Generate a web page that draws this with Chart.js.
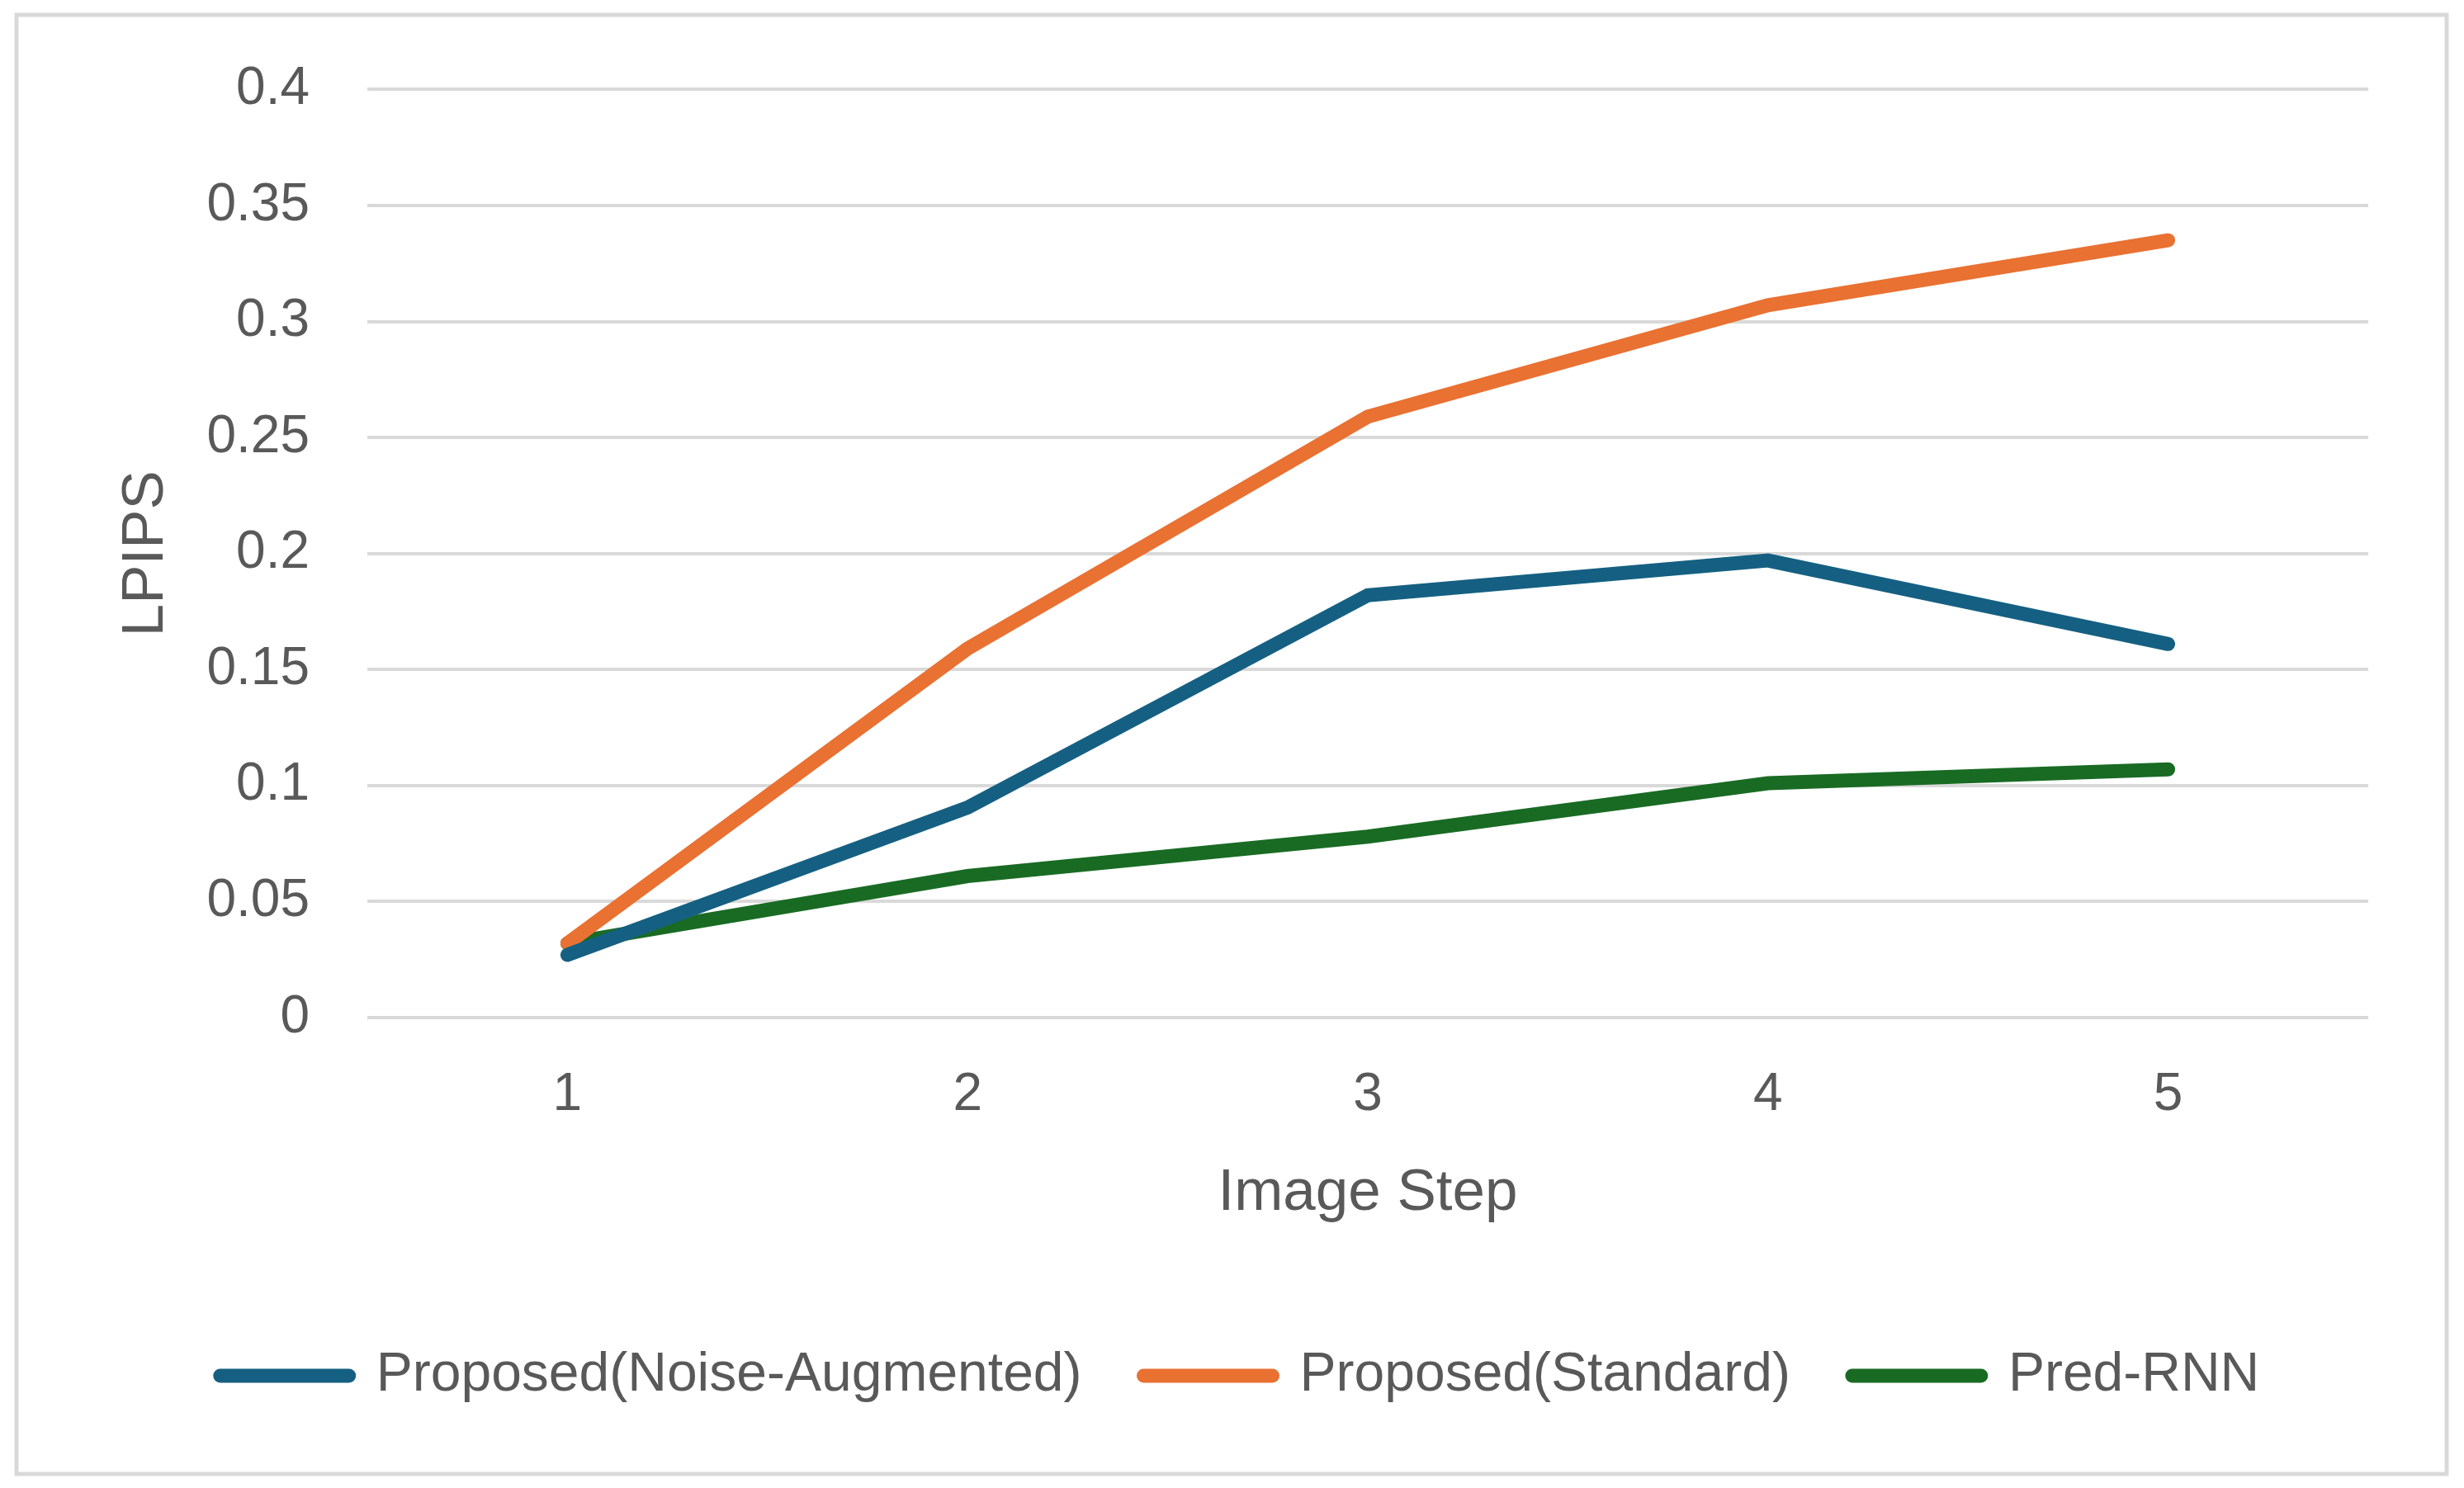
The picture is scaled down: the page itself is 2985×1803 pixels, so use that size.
<!DOCTYPE html>
<html>
<head>
<meta charset="utf-8">
<script src="https://cdn.jsdelivr.net/npm/chart.js@4"></script>
<style>
  html, body { margin: 0; padding: 0; background: #ffffff; }
  #wrap { position: absolute; left: 0; top: 0; width: 2985px; height: 1803px; }
</style>
</head>
<body>
<div id="wrap"><canvas id="lpips-chart"></canvas></div>
<script>
const steps = ["1", "2", "3", "4", "5"];
const noiseAugmented = [0.027, 0.0905, 0.182, 0.197, 0.161];
const standard = [0.032, 0.159, 0.259, 0.307, 0.335];
const predRnn = [0.032, 0.061, 0.078, 0.101, 0.107];
const yTicks = [0, 0.05, 0.1, 0.15, 0.2, 0.25, 0.3, 0.35, 0.4];

const textColor = "#595959";
const gridColor = "#d9d9d9";
const fontFamily = "'Liberation Sans', Arial, sans-serif";

const frame = {
	id: "frame",
	beforeDraw(chart) {
		const ctx = chart.ctx;
		ctx.save();
		ctx.fillStyle = "#ffffff";
		ctx.fillRect(0, 0, chart.width, chart.height);
		ctx.strokeStyle = gridColor;
		ctx.lineWidth = 5;
		ctx.strokeRect(20, 18, 2944, 1768);
		ctx.restore();
	},
};

function lineSet(label, data, color) {
	return {
		label: label,
		data: data,
		borderColor: color,
		backgroundColor: color,
		borderWidth: 17,
		borderCapStyle: "round",
		borderJoinStyle: "miter",
		pointRadius: 0,
		pointHoverRadius: 0,
		tension: 0,
	};
}

const lpipsChart = new Chart(document.getElementById("lpips-chart"), {
	type: "line",
	data: {
		labels: steps,
		datasets: [
			lineSet("Proposed(Noise-Augmented)", noiseAugmented, "#156082"),
			lineSet("Proposed(Standard)", standard, "#e97132"),
			lineSet("Pred-RNN", predRnn, "#196b24"),
		],
	},
	options: {
		responsive: true,
		maintainAspectRatio: false,
		animation: false,
		devicePixelRatio: 1,
		layout: {
			padding: { left: 135, right: 116, top: 107, bottom: 93 },
		},
		plugins: {
			legend: {
				position: "bottom",
				labels: {
					usePointStyle: true,
					pointStyle: "line",
					pointStyleWidth: 156,
					boxHeight: 40,
					padding: 75,
					color: textColor,
					font: { family: fontFamily, size: 66 },
					generateLabels(chart) {
						const items = Chart.defaults.plugins.legend.labels.generateLabels(chart);
						items.forEach((item) => {
							item.lineCap = "round";
							item.lineWidth = 17;
						});
						return items;
					},
				},
			},
			tooltip: { enabled: false },
		},
		scales: {
			x: {
				offset: true,
				grid: { display: false, drawTicks: false },
				border: { display: false },
				ticks: {
					color: textColor,
					padding: 56,
					font: { family: fontFamily, size: 64 },
				},
				title: {
					display: true,
					text: "Image Step",
					color: textColor,
					padding: { top: 0, bottom: 70 },
					font: { family: fontFamily, size: 71 },
				},
				afterFit(scale) {
					scale.height = 326;
				},
			},
			y: {
				min: 0,
				max: 0.4,
				afterBuildTicks(scale) {
					scale.ticks = yTicks.map((v) => ({ value: v }));
				},
				grid: { color: gridColor, lineWidth: 4, drawTicks: false },
				border: { display: false },
				ticks: {
					color: textColor,
					padding: 70,
					font: { family: fontFamily, size: 64 },
					callback: (v) => String(v),
				},
				title: {
					display: true,
					text: "LPIPS",
					color: textColor,
					padding: 0,
					font: { family: fontFamily, size: 71 },
				},
				afterFit(scale) {
					scale.width = 310;
				},
			},
		},
	},
	plugins: [frame],
});
</script>
</body>
</html>
